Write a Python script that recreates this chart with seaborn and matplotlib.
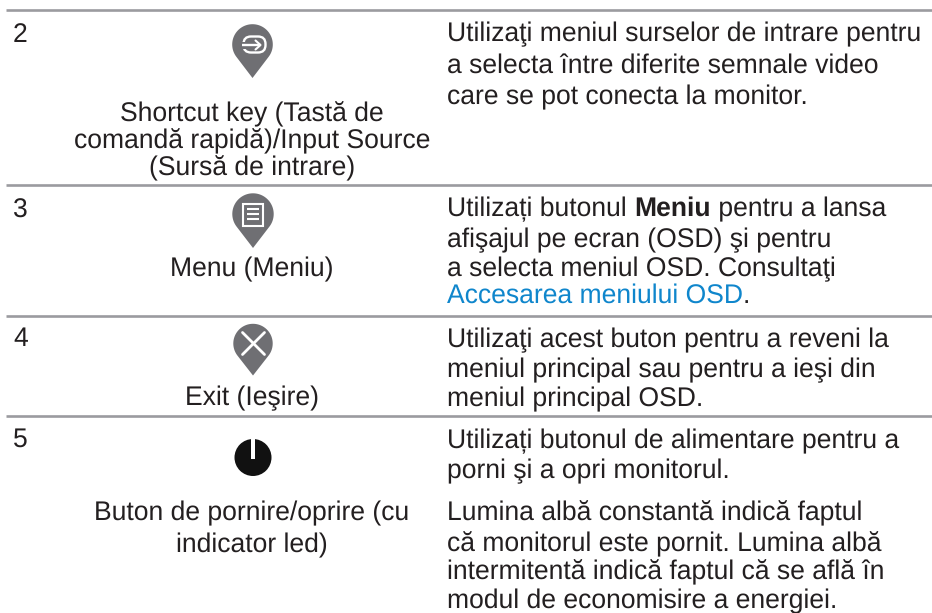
import numpy as np
import matplotlib
matplotlib.use("Agg")
import matplotlib.pyplot as plt
from matplotlib.patches import Circle, Polygon, Rectangle, FancyBboxPatch
import seaborn as sns

row_numbers = ["2", "3", "4", "5"]
control_names = [
    ["Shortcut key (Tastă de", "comandă rapidă)/Input Source", "(Sursă de intrare)"],
    ["Menu (Meniu)"],
    ["Exit (Ieşire)"],
    ["Buton de pornire/oprire (cu", "indicator led)"],
]
desc_row2 = ["Utilizaţi meniul surselor de intrare pentru",
             "a selecta între diferite semnale video",
             "care se pot conecta la monitor."]
desc_row3_first = ["Utilizați butonul ", "Meniu", " pentru a lansa"]
desc_row3 = ["afişajul pe ecran (OSD) şi pentru",
             "a selecta meniul OSD. Consultaţi"]
desc_row3_link = ["Accesarea meniului OSD", "."]
desc_row4 = ["Utilizaţi acest buton pentru a reveni la",
             "meniul principal sau pentru a ieşi din",
             "meniul principal OSD."]
desc_row5 = ["Utilizați butonul de alimentare pentru a",
             "porni şi a opri monitorul.",
             "Lumina albă constantă indică faptul",
             "că monitorul este pornit. Lumina albă",
             "intermitentă indică faptul că se află în",
             "modul de economisire a energiei."]

INK = "#231f20"
RULE = "#9b9b9f"
PIN = "#6f6f73"
LINK = "#0f86cc"
FS = 19.1

sns.set_theme(style="white")
plt.rcParams["font.family"] = ["Liberation Sans", "DejaVu Sans"]
plt.rcParams["text.hinting"] = "no_hinting"

fig = plt.figure(figsize=(9.32, 6.13), dpi=100)
ax = fig.add_axes([0, 0, 1, 1])
ax.set_xlim(0, 932)
ax.set_ylim(613, 0)
ax.axis("off")

for y in [10, 185, 316, 416]:
    sns.lineplot(x=[6, 932], y=[y, y], ax=ax, color=RULE, linewidth=1.9,
                 errorbar=None, solid_capstyle="butt")


def put(x, y, s, color=INK, ha="left", weight="normal"):
    return ax.text(x, y, s, fontsize=FS, color=color, ha=ha, va="baseline",
                   fontweight=weight)


for label, y in zip(row_numbers, [42, 218, 346, 447]):
    put(13, y, label)

for lines, ys in zip(control_names, [[121, 148, 175], [276], [405], [520, 552]]):
    for s, y in zip(lines, ys):
        put(252, y, s, ha="center")

X = 447
for s, y in zip(desc_row2, [41, 73, 104]):
    put(X, y, s)
for s, y in zip(desc_row3, [247, 276]):
    put(X, y, s)
for s, y in zip(desc_row4, [347, 377, 406]):
    put(X, y, s)
for s, y in zip(desc_row5, [448, 478, 520, 551, 579, 608]):
    put(X, y, s)

renderer = fig.canvas.get_renderer()


def advance(x, y, s, **kw):
    # trailing spaces are measured with a sentinel so runs join correctly
    t = put(x, y, s, **kw)
    probe = put(x, y, s + "|", **kw)
    bar = put(x, y, "|", **kw)
    w = (probe.get_window_extent(renderer).width
         - bar.get_window_extent(renderer).width)
    probe.remove()
    bar.remove()
    return x + w


x = X
x = advance(x, 216, desc_row3_first[0])
x = advance(x, 216, desc_row3_first[1], weight="bold")
advance(x, 216, desc_row3_first[2])
x = advance(X, 303, desc_row3_link[0], color=LINK)
put(x, 303, desc_row3_link[1])


def pin(cx, cy, r, tip):
    theta = np.arccos(r / (tip - cy))
    # sweep the circle over the top from one tangent point to the other
    angles = np.linspace(theta, 2 * np.pi - theta, 80)
    pts = [(cx + r * np.sin(a), cy + r * np.cos(a)) for a in angles]
    pts.append((cx, tip))
    ax.add_patch(Polygon(pts, closed=True, fc=PIN, ec="none", zorder=3))


pin(252.5, 44.5, 20.3, 78)
pin(253, 214, 20.7, 248)
pin(253, 343.5, 19.7, 375.5)

# input-source glyph
ax.add_patch(FancyBboxPatch((243.5, 36.5), 22, 16,
                            boxstyle="round,pad=0,rounding_size=7.5",
                            fc="none", ec="white", lw=1.7, zorder=4))
ax.add_patch(Rectangle((240, 41.5), 7, 7, fc=PIN, ec="none", zorder=4.5))
ax.plot([242, 260], [45, 45], color="white", lw=1.7, zorder=5,
        solid_capstyle="butt")
ax.plot([255.5, 260.5, 255.5], [40.5, 45, 49.5], color="white", lw=1.5, zorder=5)

# menu glyph
ax.add_patch(Rectangle((243, 203.5), 19.5, 22, fc="none", ec="white", lw=1.5, zorder=4))
for y in [209, 214, 219]:
    ax.plot([246.5, 259], [y, y], color="white", lw=1.5, zorder=5,
            solid_capstyle="butt")

# exit glyph
ax.plot([242.5, 264.5], [332.5, 354.5], color="white", lw=2.0, zorder=5)
ax.plot([242.5, 264.5], [354.5, 332.5], color="white", lw=2.0, zorder=5)

# power glyph
ax.add_patch(Circle((253, 457.5), 18.5, fc="#111111", ec="none", zorder=3))
ax.add_patch(Rectangle((250.5, 438), 4.5, 21, fc="white", ec="none", zorder=4))

fig.savefig("out.png", dpi=100, facecolor="white")
